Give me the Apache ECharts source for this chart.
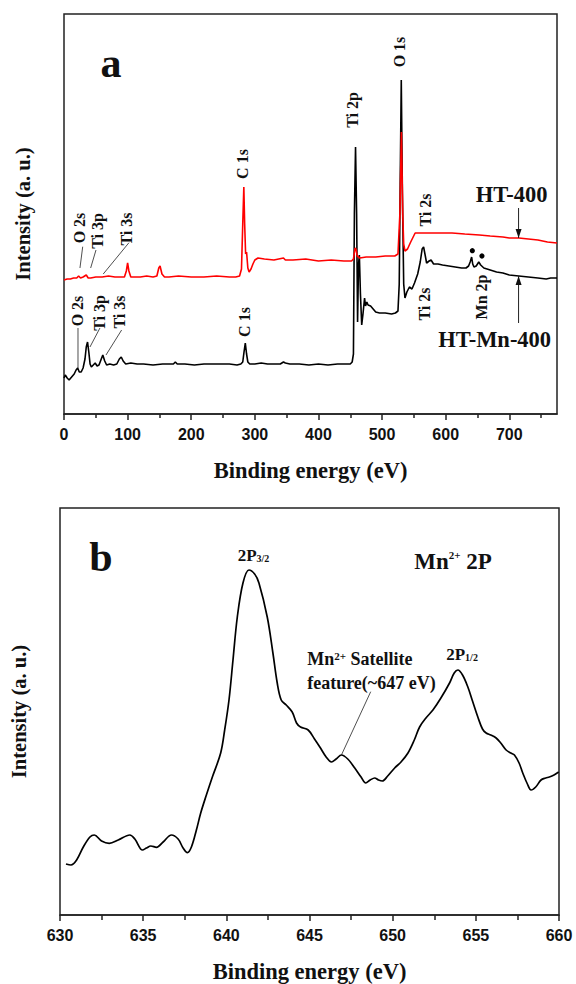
<!DOCTYPE html>
<html><head><meta charset="utf-8">
<script src="https://cdn.jsdelivr.net/npm/echarts@6/dist/echarts.min.js"></script>
<style>html,body{margin:0;padding:0;background:#fff}#c{width:576px;height:984px}</style>
</head><body><div id="c"></div>
<script>
// ---- Panel a: XPS survey spectra [binding energy (eV), intensity (a.u.)]
const ht400 = [[0,134],[5,135],[10,135],[15,136],[20,136],[23,138],[26,136],[30,137],[35,139],[38,136],[42,136],[50,137],[60,137],[70,138],[80,137],[90,137],[95,137],[98,143],[100,151],[102,143],[105,137],[110,137],[120,137],[130,138],[140,137],[146,138],[149,146],[151,148],[154,140],[158,137],[165,137],[180,138],[200,137],[220,137],[240,138],[260,137],[270,137],[276,138],[279,145],[281,190],[282.7,227],[284,190],[285.5,160],[287,162],[289,146],[291,142],[294,145],[297,150],[300,154],[305,156],[315,155],[330,154],[345,156],[348,154],[360,154],[380,155],[400,153],[420,154],[440,153],[452,153],[455,155],[457.5,166],[459,165],[461,158],[465,156],[475,157],[490,157],[505,158],[520,158],[525,160],[528,200],[530.4,282],[532.5,200],[534,170],[536,163],[540,165],[545,172],[552,181],[560,181],[575,181],[590,181],[610,181],[630,180],[653,179],[670,178],[690,177],[700,176],[715,176],[730,175],[745,174],[760,172],[775,171]];
const htMn400 = [[0,36],[2,39],[5,36],[8,34],[12,37],[16,40],[19,44],[21.5,46],[24,42],[27,42],[30,46],[33,55],[35,67],[37,72],[39,62],[41,50],[43,47],[46,49],[49,51],[52,48],[55,49],[58,54],[61,59],[64,53],[67,49],[72,50],[78,49],[83,50],[87,55],[90,57],[93,53],[97,50],[105,51],[115,50],[125,50],[140,49],[155,50],[165,50],[172,50],[175,52],[178,50],[190,50],[205,49],[220,50],[240,50],[260,50],[272,49],[278,50],[281,52],[283,62],[285,71],[287,60],[289,52],[292,50],[300,50],[310,51],[320,50],[330,50],[340,50],[345,52],[348,51],[355,50],[370,50],[385,49],[400,50],[415,49],[430,50],[445,50],[450,50],[453,52],[455,60],[456.5,200],[458.3,267],[460,200],[461.5,92],[463,150],[464.3,159],[466,120],[468,89],[470,100],[472.5,116],[474,108],[476,112],[478,109],[482,108],[486,105],[490,102],[496,101],[505,101],[515,100],[521,101],[525,103],[527,130],[528.5,230],[530.2,334],[532,220],[534,130],[536,116],[539,122],[543,127],[547,125],[551,131],[556,140],[560,152],[563,165],[565.3,167],[568,158],[570,151],[574,153],[577,154],[581,150],[588,150],[595,149],[605,148],[615,147],[625,146],[632,146],[636,148],[638.5,152],[640.8,157],[642.5,150],[644.5,147],[648,148],[652,152],[655,149],[660,146],[670,144],[680,142],[690,141],[700,139],[715,138],[730,137],[745,136],[758,135],[765,136],[775,136]];
// ---- Panel b: Mn 2p high-resolution spectrum
const mn2p = [[630.36,51],[630.66,50],[631.0,55],[631.4,68],[631.8,78],[632.06,80],[632.5,74],[632.96,71.7],[633.5,75],[634.2,80],[634.5,76],[634.96,65],[635.2,67],[635.46,69],[635.8,67.7],[636.2,73],[636.7,80],[637.1,76],[637.4,67],[637.66,62.3],[637.9,68],[638.2,85],[638.46,102],[638.8,120],[639.16,138],[639.66,162],[639.9,185],[640.16,215],[640.4,255],[640.66,298],[641.0,332],[641.36,345],[641.7,341],[641.96,332],[642.46,298],[642.8,262],[643.06,232],[643.3,215],[643.6,210],[643.96,203],[644.22,192],[644.46,188],[644.92,185],[645.3,176],[645.62,168],[646.0,158],[646.32,153],[646.6,156],[646.92,160],[647.3,156],[647.72,147],[648.1,138],[648.38,132],[648.65,135],[648.92,137],[649.15,135],[649.38,134],[649.7,139],[650.12,147],[650.5,153],[650.92,162],[651.3,175],[651.62,188],[652.0,197],[652.42,205],[652.9,217],[653.42,232],[653.7,242],[653.92,245],[654.2,240],[654.52,228],[654.8,214],[655.12,198],[655.4,186],[655.62,182],[655.9,180],[656.22,177],[656.5,172],[656.82,165],[657.1,162],[657.32,160],[657.6,152],[657.82,142],[658.1,131],[658.32,125],[658.6,128],[658.92,135],[659.2,137],[659.42,138],[659.7,140],[659.98,143]];
// ---- Tick values
const surveyMajorTicks = [0,100,200,300,400,500,600,700];
const surveyMinorTicks = [50,150,250,350,450,550,650,750];
const mnMajorTicks = [630,635,640,645,650,655,660];
const mnMinorTicks = [632.5,637.5,642.5,647.5,652.5,657.5];
// ---- Annotations (data coordinates)
const surveyLabels = [
  {t:'C 1s', x:281.2, y:250, rot:true}, {t:'O 2s', x:23.6, y:186, rot:true},
  {t:'Ti 3p', x:53.4, y:183, rot:true}, {t:'Ti 3s', x:99.0, y:185, rot:true},
  {t:'O 2s', x:22.0, y:103, rot:true}, {t:'Ti 3p', x:56.5, y:101, rot:true},
  {t:'Ti 3s', x:88.0, y:102, rot:true}, {t:'C 1s', x:284.3, y:92, rot:true},
  {t:'Ti 2p', x:453.9, y:304, rot:true}, {t:'O 1s', x:527.8, y:362, rot:true},
  {t:'Ti 2s', x:568.6, y:204, rot:true}, {t:'Ti 2s', x:567.0, y:110, rot:true},
  {t:'Mn 2p', x:656.6, y:117, rot:true}
];
const surveyLeaders = [
  [29.4,167.3,25.1,146],[50.3,164,41.9,146],[102.1,171.3,61.7,140],
  [22,86,22,46],[56.5,86,40.8,67],[90.6,84,66,59]
];
const mnDots = [[641.9,163.3],[657,158]];

const TXT = '#111', AX = '#222';
const serif = 'Liberation Serif', sans = 'Liberation Sans';
const chart = echarts.init(document.getElementById('c'), null, {renderer:'svg'});

function xAx(grid, min, max, ticks, labels, tickLen, withName){
  return {
    gridIndex:grid, type:'value', min:min, max:max, position:'bottom',
    axisLine:{show:withName, onZero:false, lineStyle:{color:AX, width:1.5}},
    axisTick:{show:true, customValues:ticks, length:tickLen, inside:false, lineStyle:{color:AX, width:1.5}},
    axisLabel:labels ? {customValues:labels, fontFamily:sans, fontWeight:'bold', fontSize:16, color:TXT, margin:12} : {show:false},
    splitLine:{show:false},
    name: withName ? 'Binding energy (eV)' : '',
    nameLocation:'middle', nameGap:45,
    nameTextStyle:{fontFamily:serif, fontWeight:'bold', fontSize:22.5, color:TXT}
  };
}
function yAx(grid, max){
  return {
    gridIndex:grid, type:'value', min:0, max:max,
    axisLine:{show:false}, axisTick:{show:false}, axisLabel:{show:false}, splitLine:{show:false},
    name:'Intensity (a. u.)', nameLocation:'middle', nameGap:31, nameRotate:90,
    nameTextStyle:{fontFamily:serif, fontWeight:'bold', fontSize:20.5, color:TXT}
  };
}

chart.setOption({
  animation:false,
  backgroundColor:'#fff',
  grid:[
    {left:64, top:14, width:493, height:400, show:true, borderColor:AX, borderWidth:1.5},
    {left:59, top:508, width:500, height:407, show:true, borderColor:AX, borderWidth:1.5}
  ],
  xAxis:[
    xAx(0, 0, 775, surveyMajorTicks, surveyMajorTicks, 6, true),
    xAx(0, 0, 775, surveyMinorTicks, null, 4, false),
    xAx(1, 630, 660, mnMajorTicks, mnMajorTicks, 6, true),
    xAx(1, 630, 660, mnMinorTicks, null, 5, false)
  ],
  yAxis:[yAx(0, 400), yAx(1, 407)],
  series:[
    {name:'HT-400', type:'line', xAxisIndex:0, yAxisIndex:0, data:ht400, showSymbol:false, lineStyle:{color:'#ff0000', width:1.6}, z:3},
    {name:'HT-Mn-400', type:'line', xAxisIndex:0, yAxisIndex:0, data:htMn400, showSymbol:false, lineStyle:{color:'#000', width:1.6}, z:2},
    {name:'Mn 2p', type:'line', xAxisIndex:2, yAxisIndex:1, data:mn2p, showSymbol:false, smooth:0.35, lineStyle:{color:'#000', width:1.7}}
  ]
});

const pa = (x,y) => chart.convertToPixel({seriesIndex:0}, [x,y]);
const pb = (x,y) => chart.convertToPixel({seriesIndex:2}, [x,y]);
const g = [];
function txt(p, text, size, opt){
  opt = opt || {};
  g.push({type:'text', x:p[0], y:p[1], rotation:opt.rot ? Math.PI/2 : 0, z:10,
    style:{text:text, font:'bold '+size+'px "'+serif+'"', fill:TXT, align:opt.align||'center', verticalAlign:'middle', rich:opt.rich}});
}
function line(p1, p2, w){
  g.push({type:'line', z:10, shape:{x1:p1[0], y1:p1[1], x2:p2[0], y2:p2[1]}, style:{stroke:'#222', lineWidth:w||0.8}});
}
function arrow(p1, p2){
  line(p1, p2, 1);
  const dir = p2[1] > p1[1] ? 1 : -1;
  g.push({type:'polygon', z:10, shape:{points:[[p2[0]-3, p2[1]-dir*9],[p2[0]+3, p2[1]-dir*9],[p2[0], p2[1]]]}, style:{fill:'#111'}});
}
surveyLabels.forEach(l => txt(pa(l.x, l.y), l.t, 16, {rot:l.rot}));
surveyLeaders.forEach(s => line(pa(s[0], s[1]), pa(s[2], s[3])));
mnDots.forEach(d => { const p = pa(d[0], d[1]); g.push({type:'circle', z:10, shape:{cx:p[0], cy:p[1], r:2.6}, style:{fill:'#000'}}); });
txt(pa(73.8, 350.7), 'a', 42);
txt(pa(703.7, 220), 'HT-400', 22.5);
txt(pa(677.0, 75), 'HT-Mn-400', 22.5);
arrow(pa(714.6, 206), pa(714.6, 176));
arrow(pa(714.6, 91), pa(714.6, 138));

const rich = {
  b17:{font:'bold 17px "'+serif+'"', fill:TXT},
  b18:{font:'bold 18px "'+serif+'"', fill:TXT},
  b23:{font:'bold 23px "'+serif+'"', fill:TXT},
  sup:{font:'bold 11px "'+serif+'"', fill:TXT, verticalAlign:'top'},
  sub:{font:'bold 10px "'+serif+'"', fill:TXT, verticalAlign:'bottom'}
};
txt(pb(632.46, 358.5), 'b', 42);
txt(pb(640.68, 360), '{b17|2P}{sub|3/2}', 17, {align:'left', rich:rich});
txt(pb(653.22, 261), '{b17|2P}{sub|1/2}', 17, {align:'left', rich:rich});
txt(pb(651.3, 354), '{b23|Mn}{sup|2+}{b23| 2P}', 23, {align:'left', rich:rich});
txt(pb(644.86, 256), '{b18|Mn}{sup|2+}{b18| Satellite}', 18, {align:'left', rich:rich});
txt(pb(644.86, 232), 'feature(~647 eV)', 18, {align:'left'});
line(pb(648.68, 223.3), pb(646.92, 160));

chart.setOption({graphic:g});
</script>
</body></html>
